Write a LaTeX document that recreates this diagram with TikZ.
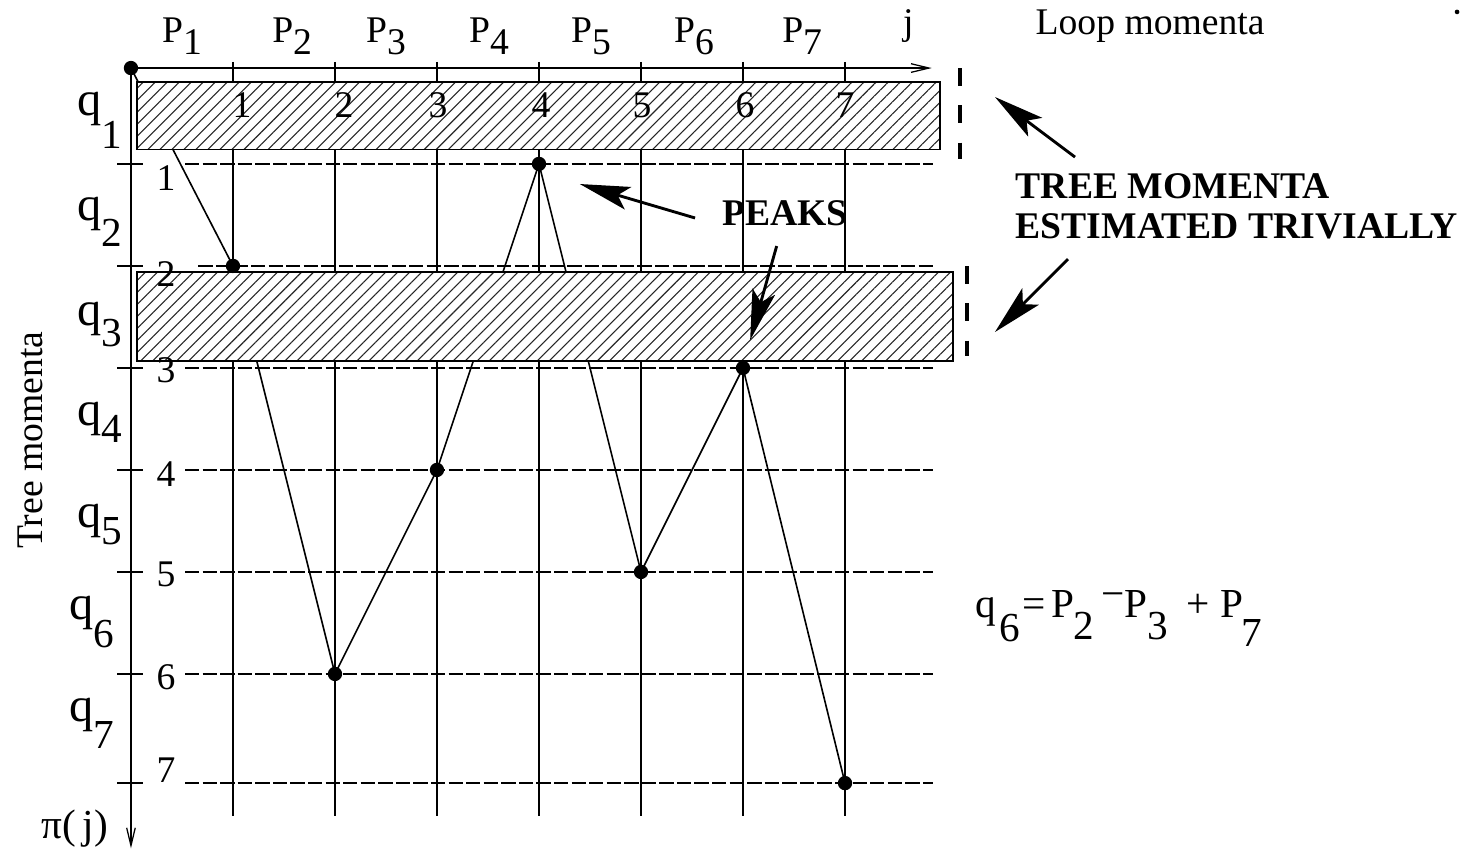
\documentclass[tikz,border=0pt]{standalone}
\usepackage{fontspec}
\setmainfont{Liberation Serif}
\usepackage{tikz}
\usetikzlibrary{arrows.meta,positioning,patterns.meta}

\newcommand{\dn}[2][3.6pt]{\raisebox{-#1}{#2}}

\tikzset{
  lbl/.style={inner sep=0pt},
  dot/.style={circle,fill=black,inner sep=0pt,minimum size=4pt},
  gridv/.style={line width=0.35pt},
  gridh/.style={line width=0.45pt,dash pattern=on 4pt off 0.9pt},
  hatchbox/.style={fill=white,
    postaction={pattern={Lines[angle=45,distance=2.37pt,line width=0.3pt]},pattern color=black!85},
    postaction={draw=black,line width=0.4pt}},
  bigarrow/.style={line width=0.8pt,-{Stealth[length=14pt,width=6.5pt,inset=3pt]}},
  thickdash/.style={line width=1.1pt,dash pattern=on 5pt off 5.4pt},
  boldlbl/.style={inner sep=0pt,font=\fontsize{10.5}{12.6}\selectfont\bfseries}
}

\begin{document}
\begin{tikzpicture}[x=1cm,y=-1cm,>={Straight Barb[length=5pt,width=2.4pt]},
  font=\fontsize{10.5}{12.6}\selectfont]
  \useasboundingbox (-1.284,-0.667) rectangle (13.186,7.667);
  \foreach \j in {1,...,7}
    \draw[gridv] (\j,-0.06) -- (\j,7.33);
  \foreach \i/\y/\s in {1/0.94/0.53,2/1.94/0.66,3/2.94/0.53,
      4/3.94/0.53,5/4.94/0.53,6/5.94/0.53,7/7.01/0.53} {
    \draw[gridh] (\s,\y) -- (7.86,\y);
    \draw[gridv] (-0.137,\y) -- (0.118,\y);
  }
  \draw[gridv,->] (0,0) -- (7.85,0);
  \draw[gridv,->] (0,0) -- (0,7.65);

  \foreach \j/\p in {0/0,1/1.94,2/5.94,3/3.94,4/0.94,5/4.94,6/2.94,7/7.01}
    \coordinate (c\j) at (\j,\p);
  \draw[line width=0.45pt] (c0) -- (c1) -- (c2) -- (c3) -- (c4) -- (c5) -- (c6) -- (c7);
  \path[hatchbox] (0.06,0.137) rectangle (7.93,0.80);
  \path[hatchbox] (0.06,2.0) rectangle (8.06,2.87);
  \foreach \j in {0,...,7}
    \node[dot] (d\j) at (c\j) {};

  \foreach \i/\ly in {1/1.08,2/2.02,3/2.96,4/3.98,5/4.96,6/5.97,7/6.88}
    \node[lbl] (r\i) at (0.343,\ly) {\i};
  \foreach \j/\x in {1/1.088,2/2.088,3/3.01,4/4.02,5/5.01,6/6.02,7/7.0}
    \node[lbl] (n\j) at (\x,0.363) {\j};
  \foreach \j/\x in {1/0.5,2/1.58,3/2.5,4/3.51,5/4.51,6/5.52,7/6.58}
    \node[lbl,anchor=base] (P\j) at (\x,-0.255) {P\dn{\j}};
  \node[lbl,anchor=base] (jlab) at (7.62,-0.333) {j};
  \node[lbl,anchor=base west] (loop) at (8.862,-0.324) {Loop momenta};
  \node[dot,minimum size=1.3pt] (stop) at (13.0,-0.55) {};

  \foreach \i/\x/\b/\d in {1/-0.53/0.47/9.2pt,2/-0.53/1.49/7.5pt,3/-0.53/2.52/6pt,
      4/-0.53/3.50/5pt,5/-0.53/4.50/5pt,6/-0.61/5.41/7.8pt,7/-0.61/6.41/7.3pt}
    \node[lbl,anchor=base west,font=\fontsize{13.5}{15}\selectfont] (q\i) at (\x,\b)
      {q\dn[\d]{\fontsize{11.5}{13}\selectfont\i}};
  \node[lbl,rotate=90] (tree) at (-0.99,3.65) {Tree momenta};
  \node[lbl,font=\fontsize{11.5}{13}\selectfont] (pi) at (-0.55,7.46) {π(\,j)};

  \node[boldlbl,anchor=base] (peaks) at (6.41,1.54) {PEAKS};
  \node[boldlbl,anchor=base west] (tm1) at (8.667,1.275) {TREE MOMENTA};
  \node[boldlbl,anchor=base west] (tm2) at (8.667,1.667) {ESTIMATED TRIVIALLY};

  \coordinate (pa) at (5.53,1.47);
  \coordinate (pat) at (4.40,1.137);
  \coordinate (pb) at (6.33,1.745);
  \coordinate (pbt) at (6.07,2.667);
  \coordinate (ta) at (9.255,0.873);
  \coordinate (tat) at (8.47,0.284);
  \coordinate (tb) at (9.186,1.873);
  \coordinate (tbt) at (8.47,2.588);
  \draw[bigarrow] (pa) -- (pat);
  \draw[bigarrow] (pb) -- (pbt);
  \draw[bigarrow] (ta) -- (tat);
  \draw[bigarrow] (tb) -- (tbt);

  \draw[thickdash] (8.127,0) -- (8.127,0.892);
  \draw[thickdash] (8.196,1.941) -- (8.196,2.824);

  \node[lbl,anchor=base west,font=\fontsize{11.5}{13}\selectfont] (eq) at (8.275,5.39)
    {q\hspace{1pt}\dn[6.5pt]{6}\hspace{0.5pt}=\hspace{1.5pt}P\dn[6pt]{2}\hspace{2pt}\raisebox{3pt}{−}P\dn[6pt]{3}\hspace{5pt}+\hspace{3pt}P\hspace{-0.5pt}\dn[8pt]{7}};
\end{tikzpicture}
\end{document}
